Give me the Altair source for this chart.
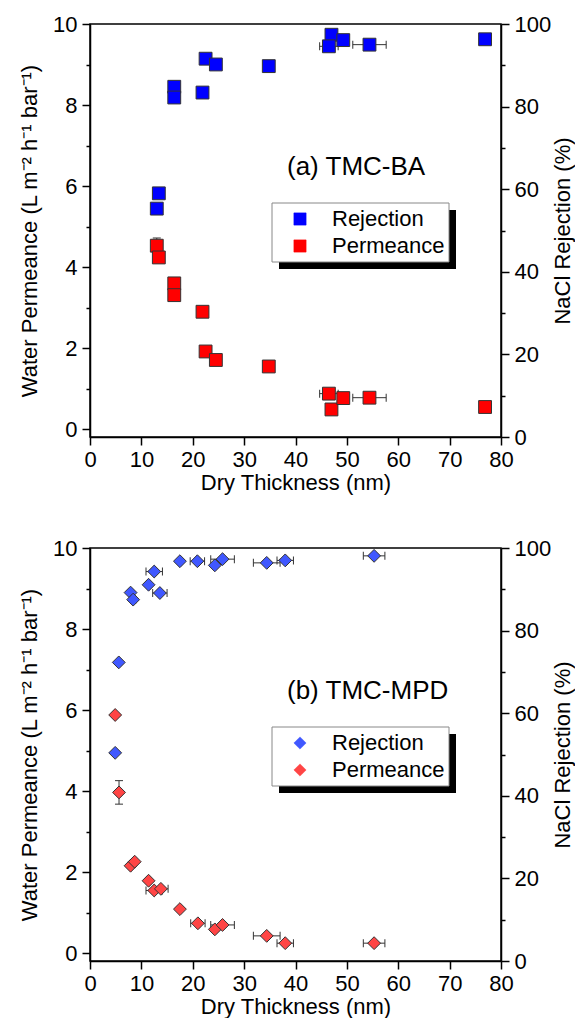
import altair as alt
import pandas as pd

FONT = "Liberation Sans"

# ---------------- data: panel (a) TMC-BA ----------------
a_rej_x = [13.0, 13.4, 16.4, 16.4, 21.9, 22.5, 24.5, 34.8, 47.0, 46.5, 49.3, 54.4, 76.9]
a_rej_y = [55.3, 59.0, 84.8, 82.2, 83.4, 91.6, 90.2, 89.8, 97.4, 94.6, 96.1, 95.0, 96.3]
a_rej_xerr = [0, 0, 0, 0, 0, 0, 0, 0, 0, 1.8, 0, 3.25, 0]

a_perm_x = [13.0, 13.4, 16.4, 16.4, 21.9, 22.5, 24.5, 34.8, 46.5, 47.0, 49.3, 54.4, 76.9]
a_perm_y = [4.53, 4.24, 3.60, 3.31, 2.90, 1.92, 1.71, 1.55, 0.88, 0.49, 0.77, 0.78, 0.55]
a_perm_xerr = [0, 0, 0, 0, 0, 0, 0, 0, 1.8, 0, 0, 3.25, 0]
a_perm_yerr = [0.19, 0, 0, 0, 0, 0, 0, 0, 0, 0, 0, 0, 0]

# ---------------- data: panel (b) TMC-MPD ----------------
b_rej_x = [4.9, 5.6, 7.9, 8.4, 11.4, 12.5, 13.6, 17.5, 20.9, 24.3, 25.8, 34.4, 38.0, 55.3]
b_rej_y = [50.4, 72.3, 89.2, 87.5, 91.1, 94.3, 89.1, 96.8, 96.8, 95.8, 97.3, 96.4, 97.0, 98.1]
b_rej_xerr = [0, 0, 0, 0.5, 0, 1.6, 1.4, 0, 1.4, 0, 2.3, 2.6, 1.6, 2.1]

b_perm_x = [4.9, 5.65, 7.9, 8.7, 11.4, 12.5, 13.8, 17.5, 21.0, 24.3, 25.8, 34.4, 38.0, 55.3]
b_perm_y = [5.88, 3.97, 2.16, 2.26, 1.79, 1.55, 1.59, 1.09, 0.74, 0.59, 0.70, 0.43, 0.25, 0.25]
b_perm_xerr = [0, 0, 0, 0, 0, 1.6, 1.4, 0, 1.4, 0, 2.3, 2.6, 1.6, 2.1]
b_perm_yerr = [0, 0.29, 0, 0, 0, 0, 0, 0, 0, 0, 0, 0, 0, 0]

series_names = ["Rejection", "Permeance"]
panel_labels = ["(a) TMC-BA", "(b) TMC-MPD"]

x_title = "Dry Thickness (nm)"
left_title = "Water Permeance (L m\u207b\u00b2 h\u207b\u00b9 bar\u207b\u00b9)"
right_title = "NaCl Rejection (%)"

W, H = 411, 413
FS = 22
STROKE = "#333333"


def axis_x():
    return alt.Axis(
        values=list(range(0, 81, 5)),
        labelExpr="datum.value % 10 === 0 ? datum.label : ''",
        tickSize={"condition": {"test": "datum.value % 10 === 0", "value": 8}, "value": 4},
        labelFlush=False, labelPadding=4, titlePadding=2,
        title=x_title,
    )


def axis_left():
    return alt.Axis(
        orient="left",
        values=list(range(0, 11)),
        labelExpr="datum.value % 2 === 0 ? datum.label : ''",
        tickSize={"condition": {"test": "datum.value % 2 === 0", "value": 8}, "value": 4},
        labelFlush=False, labelPadding=5, titlePadding=11,
        title=left_title,
    )


def axis_right():
    return alt.Axis(
        orient="right",
        values=list(range(0, 101, 10)),
        labelExpr="datum.value % 20 === 0 ? datum.label : ''",
        tickSize={"condition": {"test": "datum.value % 20 === 0", "value": 8}, "value": 4},
        labelFlush=False, labelPadding=5,
        titleAngle=270, titleBaseline="top", titlePadding=2,
        title=right_title,
    )


def errors_x(xs, ys, errs):
    rows = [dict(x=x, y=y, lo=x - e, hi=x + e) for x, y, e in zip(xs, ys, errs) if e > 0]
    return pd.DataFrame(rows, columns=["x", "y", "lo", "hi"])


def errors_y(xs, ys, errs):
    rows = [dict(x=x, y=y, lo=y - e, hi=y + e) for x, y, e in zip(xs, ys, errs) if e > 0]
    return pd.DataFrame(rows, columns=["x", "y", "lo", "hi"])


def panel(rx, ry, rxe, px, py, pxe, pye, shape, blue, red, label):
    xs = alt.Scale(domain=[0, 80], nice=False, zero=False)
    yl = alt.Scale(domain=[-0.19, 10], nice=False, zero=False)
    yr = alt.Scale(domain=[0, 100], nice=False, zero=False)

    perm_df = pd.DataFrame({"x": px, "y": py})
    rej_df = pd.DataFrame({"x": rx, "y": ry})

    pex = errors_x(px, py, pxe)
    pey = errors_y(px, py, pye)
    rex = errors_x(rx, ry, rxe)

    X = alt.X("x:Q", scale=xs, axis=axis_x())

    # ---- permeance (left axis) ----
    perm_layers = []
    if len(pex):
        perm_layers.append(alt.Chart(pex).mark_rule(color=STROKE, strokeWidth=1).encode(
            x=alt.X("lo:Q", scale=xs, axis=axis_x()), x2="hi:Q",
            y=alt.Y("y:Q", scale=yl, axis=axis_left())))
        perm_layers.append(alt.Chart(pex).transform_fold(["lo", "hi"], as_=["k", "cx"]).mark_tick(
            orient="vertical", size=8, thickness=1, color=STROKE, opacity=1).encode(
            x=alt.X("cx:Q", scale=xs), y=alt.Y("y:Q", scale=yl)))
    if len(pey):
        perm_layers.append(alt.Chart(pey).mark_rule(color=STROKE, strokeWidth=1).encode(
            x=alt.X("x:Q", scale=xs), y=alt.Y("lo:Q", scale=yl), y2="hi:Q"))
        perm_layers.append(alt.Chart(pey).transform_fold(["lo", "hi"], as_=["k", "cy"]).mark_tick(
            orient="horizontal", size=8, thickness=1, color=STROKE, opacity=1).encode(
            x=alt.X("x:Q", scale=xs), y=alt.Y("cy:Q", scale=yl)))
    perm_layers.append(alt.Chart(perm_df).mark_point(
        shape=shape, size=165, filled=True, fill=red, stroke=STROKE, strokeWidth=1,
        opacity=1, fillOpacity=1).encode(
        x=X, y=alt.Y("y:Q", scale=yl, axis=axis_left())))
    perm = alt.layer(*perm_layers)

    # ---- rejection (right axis) ----
    rej_layers = []
    if len(rex):
        rej_layers.append(alt.Chart(rex).mark_rule(color=STROKE, strokeWidth=1).encode(
            x=alt.X("lo:Q", scale=xs), x2="hi:Q",
            y=alt.Y("y:Q", scale=yr, axis=axis_right())))
        rej_layers.append(alt.Chart(rex).transform_fold(["lo", "hi"], as_=["k", "cx"]).mark_tick(
            orient="vertical", size=8, thickness=1, color=STROKE, opacity=1).encode(
            x=alt.X("cx:Q", scale=xs), y=alt.Y("y:Q", scale=yr)))
    rej_layers.append(alt.Chart(rej_df).mark_point(
        shape=shape, size=165, filled=True, fill=blue, stroke=STROKE, strokeWidth=1,
        opacity=1, fillOpacity=1).encode(
        x=X, y=alt.Y("y:Q", scale=yr, axis=axis_right())))
    rej = alt.layer(*rej_layers)

    # ---- annotation and legend ----
    one = pd.DataFrame({"t": [label]})
    lx0, lx1, ly0, ly1 = 182, 359, 179, 238
    shadow = alt.Chart(one).mark_rect(color="black").encode(
        x=alt.value(lx0 + 7), x2=alt.value(lx1 + 7), y=alt.value(ly0 + 7), y2=alt.value(ly1 + 7))
    box = alt.Chart(one).mark_rect(fill="white", stroke="#888888", strokeWidth=1).encode(
        x=alt.value(lx0), x2=alt.value(lx1), y=alt.value(ly0), y2=alt.value(ly1))
    leg_layers = [shadow, box]
    for name, col, yy in zip(series_names, [blue, red], [195, 222]):
        d = pd.DataFrame({"t": [name]})
        leg_layers.append(alt.Chart(d).mark_point(
            shape=shape, size=150, filled=True, fill=col, stroke=col, strokeWidth=0.5,
            opacity=1, fillOpacity=1).encode(x=alt.value(210), y=alt.value(yy)))
        leg_layers.append(alt.Chart(d).mark_text(
            font=FONT, fontSize=FS, align="left", baseline="middle", color="black").encode(
            x=alt.value(242), y=alt.value(yy), text="t:N"))
    title_txt = alt.Chart(one).mark_text(
        font=FONT, fontSize=26, align="left", baseline="middle", color="black").encode(
        x=alt.value(197), y=alt.value(143), text="t:N")

    return alt.layer(perm, rej, *leg_layers, title_txt).resolve_scale(
        y="independent").properties(width=W, height=H)


pa = panel(a_rej_x, a_rej_y, a_rej_xerr, a_perm_x, a_perm_y, a_perm_xerr, a_perm_yerr,
           "square", "#0000ff", "#ff0000", panel_labels[0])
pb = panel(b_rej_x, b_rej_y, b_rej_xerr, b_perm_x, b_perm_y, b_perm_xerr, b_perm_yerr,
           "diamond", "#4058ff", "#ff4545", panel_labels[1])

chart = alt.vconcat(pa, pb, spacing=42).properties(
    padding={"left": 9, "top": 4, "right": 0, "bottom": 0}
).configure_view(stroke="black", strokeWidth=1.5).configure_axis(
    grid=False,
    domainColor="black", domainWidth=1.5,
    tickColor="black", tickWidth=1.5,
    labelFont=FONT, labelFontSize=FS, labelColor="black",
    titleFont=FONT, titleFontSize=FS, titleColor="black", titleFontWeight="normal",
)

chart.save("out.html", embed_options={"renderer": "svg", "actions": False})
